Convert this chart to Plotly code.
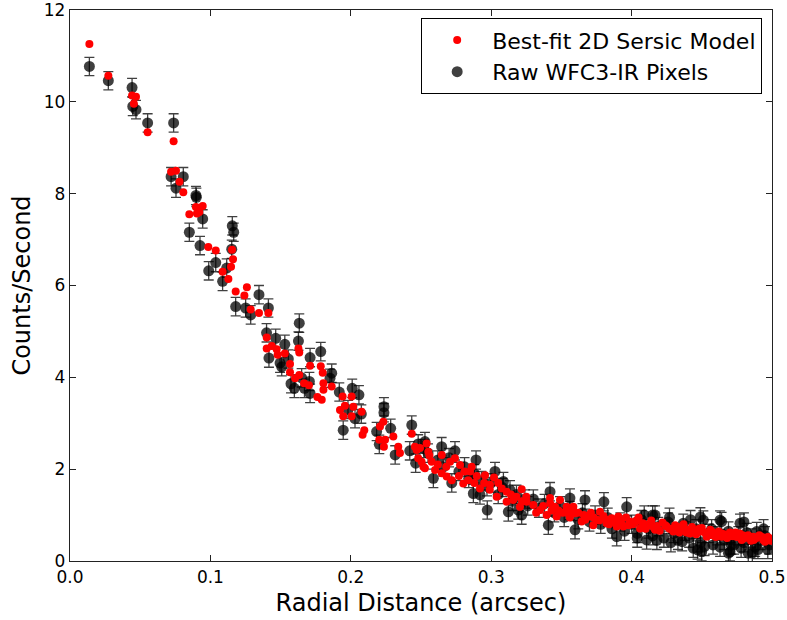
import plotly.graph_objects as go

# Raw WFC3-IR pixels (radius in arcsec, counts/s)
raw_x = [0.0138, 0.0273, 0.0442, 0.0447, 0.047, 0.0553, 0.0738, 0.072, 0.0755, 0.0807,
         0.0897, 0.0900, 0.0945, 0.085, 0.0926, 0.0988, 0.1038, 0.1156, 0.1166, 0.1152,
         0.1087, 0.1116, 0.118, 0.1346, 0.1251, 0.1287, 0.1413, 0.1633, 0.140, 0.1465,
         0.153, 0.1627, 0.171, 0.1786, 0.1417, 0.1496, 0.1508, 0.1555, 0.1574, 0.1598,
         0.165, 0.1705, 0.171, 0.167, 0.1864, 0.1852, 0.1918, 0.201, 0.2058, 0.1946,
         0.2075, 0.198, 0.203, 0.2236, 0.2236, 0.2184, 0.2284, 0.2316, 0.2203, 0.2434,
         0.2528, 0.2462, 0.242, 0.248, 0.252,
         0.2647, 0.2742, 0.2588, 0.2719, 0.2892, 0.2873, 0.2920, 0.3027, 0.2972, 0.3087,
         0.3122, 0.3134, 0.3193, 0.3240, 0.3217, 0.3419, 0.3407, 0.3561, 0.3597, 0.3668,
         0.3803, 0.3965, 0.3894, 0.4107, 0.4167, 0.4368, 0.4439, 0.4511, 0.4499, 0.4641,
         0.4701, 0.4772, 0.4831, 0.4891, 0.415, 0.449, 0.463, 0.480, 0.447, 0.469, 0.486,
         0.255, 0.262, 0.266, 0.270, 0.277, 0.281, 0.284, 0.288, 0.293, 0.297,
         0.300, 0.305, 0.308, 0.315, 0.318, 0.326, 0.330, 0.334, 0.338, 0.345,
         0.349, 0.352, 0.356, 0.362, 0.365, 0.370, 0.374, 0.378, 0.383, 0.386,
         0.392, 0.395, 0.400, 0.404, 0.407, 0.412, 0.415, 0.419, 0.423, 0.426,
         0.430, 0.433, 0.438, 0.441, 0.446, 0.449, 0.455, 0.458, 0.461, 0.466,
         0.469, 0.473, 0.476, 0.480, 0.485, 0.488, 0.492, 0.495, 0.498,
         0.404, 0.418, 0.428, 0.436, 0.452, 0.457, 0.463, 0.471, 0.478, 0.482,
         0.490, 0.494, 0.497, 0.409, 0.427, 0.442]
raw_y = [10.77, 10.46, 10.31, 9.90, 9.83, 9.54, 9.54, 8.37, 8.12, 8.37,
         7.96, 7.92, 7.45, 7.16, 6.87, 6.32, 6.50, 7.30, 7.16, 6.79,
         6.09, 6.38, 5.54, 5.80, 5.51, 5.36, 5.51, 5.18, 4.97, 4.85,
         4.72, 4.79, 4.43, 4.56, 4.42, 4.31, 4.23, 4.40, 3.86, 3.76,
         3.99, 3.91, 3.65, 3.76, 4.09, 3.98, 3.68, 3.76, 3.62, 2.85,
         3.20, 3.30, 3.10, 3.36, 3.23, 2.82, 2.89, 2.31, 2.54, 2.96,
         2.60, 2.13, 2.40, 2.55, 2.45,
         2.49, 2.40, 1.80, 1.70, 2.20, 1.47, 1.44, 1.95, 1.11, 1.73,
         1.07, 1.55, 1.11, 1.35, 1.00, 1.51, 0.78, 1.37, 0.68, 1.33,
         1.29, 1.18, 0.53, 0.46, 1.00, 0.82, 0.28, 0.89, 0.20, 0.86,
         0.20, 0.82, 0.17, 0.64, 1.00, 0.96, 0.89, 0.85, 0.24, 0.17, 0.17,
         2.35, 2.20, 2.05, 2.25, 1.95, 2.05, 1.80, 1.90, 1.75, 1.62,
         1.70, 1.45, 1.60, 1.30, 1.45, 1.20, 1.35, 1.15, 1.25, 1.05,
         1.20, 0.95, 1.10, 0.90, 1.05, 0.85, 1.00, 0.80, 0.95, 0.70,
         0.85, 0.65, 0.80, 0.60, 0.90, 0.70, 0.55, 0.75, 0.50, 0.85,
         0.60, 0.45, 0.65, 0.50, 0.70, 0.40, 0.60, 0.35, 0.55, 0.45,
         0.65, 0.35, 0.55, 0.40, 0.50, 0.30, 0.45, 0.55, 0.35,
         0.50, 0.45, 0.40, 0.42, 0.32, 0.70, 0.30, 0.35, 0.28, 0.62,
         0.25, 0.70, 0.25, 1.00, 0.95, 0.90]
raw_err = 0.2

# Best-fit 2D Sersic model values
model_x = [0.0138, 0.0273, 0.0442, 0.047, 0.0455, 0.0553, 0.0738, 0.072, 0.0755, 0.078,
           0.0807, 0.085, 0.0897, 0.0945, 0.0904, 0.0921, 0.0985, 0.1038, 0.1154, 0.1161,
           0.1147, 0.1087, 0.1128, 0.118, 0.126, 0.1242, 0.1287, 0.1346, 0.1413, 0.1401,
           0.1401, 0.1437, 0.1472, 0.1479, 0.153, 0.1627, 0.1633, 0.1567, 0.171, 0.1567,
           0.1603, 0.1633, 0.1667, 0.1702, 0.1786, 0.18, 0.1805, 0.1805, 0.1762, 0.1793,
           0.1864, 0.1942, 0.2006, 0.1923, 0.1958, 0.1946, 0.2006, 0.2018, 0.2077, 0.2096,
           0.2084, 0.2232, 0.2208, 0.2203, 0.2244, 0.2236, 0.2303, 0.2338, 0.235, 0.2434,
           0.2469, 0.2504, 0.2528, 0.2552,
           0.2457, 0.2493, 0.254, 0.248, 0.2517, 0.2576, 0.26, 0.2648, 0.2707, 0.2742,
           0.2778, 0.2648, 0.2683, 0.2719, 0.2861, 0.2801, 0.2837, 0.2849, 0.2897, 0.292,
           0.2956, 0.302, 0.2991, 0.3039, 0.3075, 0.311, 0.311, 0.3157, 0.3217, 0.3205,
           0.3252, 0.33, 0.3348, 0.3395, 0.3419, 0.3454, 0.349, 0.3466, 0.3537, 0.3585,
           0.3597, 0.3644, 0.3699, 0.3727, 0.3775, 0.3822, 0.3858, 0.3894, 0.3906, 0.3941,
           0.3989, 0.4036, 0.4060, 0.4131, 0.4167, 0.425, 0.4297, 0.4368, 0.4415, 0.4487,
           0.4535, 0.4594, 0.4641, 0.4724, 0.4784, 0.4867, 0.4938, 0.4986,
           0.401, 0.405, 0.408, 0.410, 0.414, 0.418, 0.420, 0.422, 0.427, 0.431,
           0.434, 0.437, 0.440, 0.443, 0.446, 0.450, 0.452, 0.456, 0.458, 0.462,
           0.466, 0.468, 0.470, 0.475, 0.477, 0.481, 0.483, 0.485, 0.489, 0.491,
           0.495, 0.497, 0.500,
           0.325, 0.332, 0.337, 0.343, 0.351, 0.356, 0.362, 0.367, 0.371, 0.375,
           0.380, 0.384, 0.392, 0.396, 0.305, 0.314, 0.318, 0.322, 0.277, 0.281,
           0.288, 0.295, 0.299, 0.256, 0.262, 0.268,
           0.403, 0.412, 0.416, 0.424, 0.429, 0.433, 0.439, 0.444, 0.448, 0.454,
           0.457, 0.460, 0.464, 0.472, 0.474, 0.479, 0.487, 0.493, 0.499, 0.342,
           0.348, 0.354, 0.358, 0.366, 0.373, 0.377, 0.382, 0.388, 0.393, 0.398]
model_y = [11.26, 10.57, 10.14, 10.11, 9.96, 9.34, 9.14, 8.48, 8.50, 8.26,
           8.03, 7.55, 7.71, 7.73, 7.57, 7.60, 6.84, 6.76, 6.78, 6.57,
           6.41, 6.30, 6.14, 5.87, 5.96, 5.78, 5.48, 5.40, 5.40, 4.87,
           4.63, 4.68, 4.61, 4.49, 4.52, 4.63, 4.54, 4.29, 4.25, 4.11,
           3.98, 4.05, 3.87, 3.83, 4.24, 4.10, 3.87, 3.73, 3.57, 3.51,
           3.80, 3.58, 3.58, 3.29, 3.38, 3.15, 3.15, 3.36, 3.25, 2.85,
           2.75, 3.03, 2.93, 2.64, 2.64, 2.49, 2.71, 2.49, 2.35, 2.77,
           2.42, 2.16, 2.02, 2.38,
           2.49, 2.46, 2.56, 2.24, 2.05, 2.16, 1.98, 2.31, 2.16, 2.24,
           2.09, 1.91, 1.84, 1.76, 2.05, 1.69, 1.76, 1.95, 1.85, 1.58,
           1.87, 1.82, 1.66, 1.40, 1.58, 1.51, 1.29, 1.33, 1.56, 1.18,
           1.29, 1.22, 1.11, 1.00, 1.37, 1.18, 1.33, 0.97, 1.18, 1.18,
           1.04, 0.86, 0.97, 0.78, 1.07, 0.82, 0.93, 0.75, 0.97, 0.75,
           0.86, 0.89, 0.71, 0.78, 0.68, 0.75, 0.64, 0.71, 0.60, 0.64,
           0.53, 0.60, 0.53, 0.57, 0.46, 0.53, 0.46, 0.49,
           0.80, 0.95, 0.82, 0.70, 0.88, 0.76, 0.66, 0.84, 0.70, 0.78,
           0.62, 0.80, 0.68, 0.74, 0.58, 0.72, 0.62, 0.68, 0.56, 0.64,
           0.58, 0.50, 0.62, 0.52, 0.60, 0.50, 0.56, 0.44, 0.50, 0.56,
           0.42, 0.52, 0.48,
           1.40, 1.05, 1.20, 1.10, 1.05, 0.95, 1.05, 0.90, 1.05, 0.90,
           0.98, 0.80, 0.88, 0.95, 1.70, 1.45, 1.40, 1.30, 1.85, 1.95,
           1.70, 1.70, 1.55, 2.30, 2.10, 2.05,
           0.86, 0.80, 0.72, 0.78, 0.68, 0.74, 0.62, 0.66, 0.70, 0.58,
           0.64, 0.52, 0.60, 0.54, 0.62, 0.56, 0.46, 0.52, 0.44, 1.25,
           1.10, 1.05, 1.10, 1.00, 0.95, 0.88, 0.90, 0.85, 0.80, 0.78]

x_ticks = [0.0, 0.1, 0.2, 0.3, 0.4, 0.5]
x_labels = ["0.0", "0.1", "0.2", "0.3", "0.4", "0.5"]
y_ticks = [0, 2, 4, 6, 8, 10, 12]

FONT = "DejaVu Sans"

fig = go.Figure()
fig.add_trace(go.Scatter(
    x=raw_x, y=raw_y, mode="markers", name="Raw WFC3-IR Pixels",
    legendrank=2,
    marker=dict(color="rgba(0,0,0,0.75)", size=11, line=dict(width=0)),
    error_y=dict(type="constant", value=raw_err, color="rgba(0,0,0,0.75)",
                 thickness=1.3, width=5),
))
fig.add_trace(go.Scatter(
    x=model_x, y=model_y, mode="markers", name="Best-fit 2D Sersic Model",
    legendrank=1,
    marker=dict(color="#ff0000", size=8, line=dict(width=0)),
))

axis_common = dict(
    showline=True, linecolor="#222", linewidth=1.3, mirror="ticks",
    ticks="inside", ticklen=6, tickwidth=1, tickcolor="#222",
    showgrid=False, zeroline=False, automargin=False,
    ticklabeloverflow="allow",
    tickfont=dict(family=FONT, size=17, color="black"),
)
fig.update_xaxes(range=[0, 0.5], tickvals=x_ticks, ticktext=x_labels,
                 title=dict(text="Radial Distance (arcsec)",
                            font=dict(family=FONT, size=24, color="black"),
                            standoff=8),
                 **axis_common)
fig.update_yaxes(range=[0, 12], tickvals=y_ticks,
                 title=dict(text="Counts/Second",
                            font=dict(family=FONT, size=24, color="black"),
                            standoff=6),
                 **axis_common)

fig.update_layout(
    width=787, height=620,
    margin=dict(l=70, r=15, t=10, b=59),
    paper_bgcolor="white", plot_bgcolor="white",
    font=dict(family=FONT, color="black"),
    legend=dict(x=0.986, y=0.985, xanchor="right", yanchor="top",
                bordercolor="black", borderwidth=1, bgcolor="white",
                font=dict(family=FONT, size=22, color="black"),
                itemwidth=60, tracegroupgap=0),
    showlegend=True,
)

fig.write_html("out.html", config={"displayModeBar": False},
               post_script="document.body.style.margin='0';document.body.style.overflow='hidden';")
